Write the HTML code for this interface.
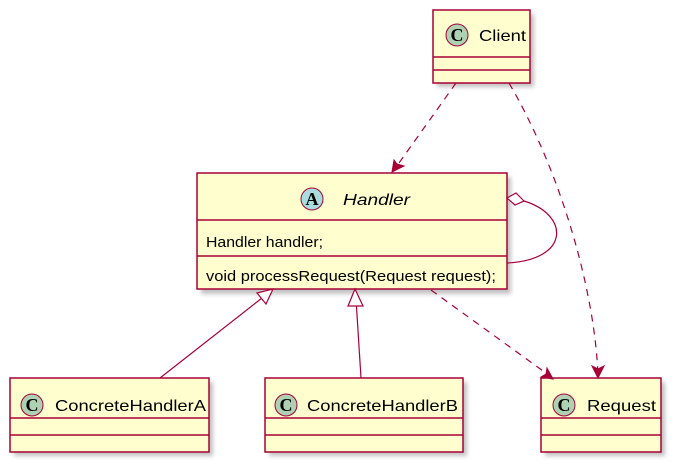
<!DOCTYPE html>
<html><head><style>
body{margin:0;background:#fff;}
svg{display:block;font-family:"Liberation Sans",sans-serif;}
</style></head><body>
<svg width="679" height="471" viewBox="0 0 679 471" xmlns="http://www.w3.org/2000/svg">
<defs>
<filter id="sh" x="-10%" y="-10%" width="130%" height="130%"><feGaussianBlur stdDeviation="2"/></filter>
</defs>
<g fill="#999" opacity="0.6" filter="url(#sh)">
<rect x="437" y="14" width="97" height="73"/>
<rect x="201" y="177" width="310" height="117"/>
<rect x="14" y="382" width="199" height="74"/>
<rect x="269" y="382" width="198" height="74"/>
<rect x="545" y="382" width="120" height="74"/>
</g>
<g stroke="#A80036" stroke-width="1.5" fill="#FEFECE">
<rect x="433" y="10" width="97" height="73"/>
<line x1="433" y1="57" x2="530" y2="57"/><line x1="433" y1="70" x2="530" y2="70"/>
<rect x="197" y="173" width="310" height="116"/>
<line x1="197" y1="220" x2="507" y2="220"/><line x1="197" y1="256" x2="507" y2="256"/>
<rect x="10" y="378" width="199" height="74"/>
<line x1="10" y1="418" x2="209" y2="418"/><line x1="10" y1="435" x2="209" y2="435"/>
<rect x="265" y="378" width="198" height="74"/>
<line x1="265" y1="418" x2="463" y2="418"/><line x1="265" y1="435" x2="463" y2="435"/>
<rect x="541" y="378" width="120" height="74"/>
<line x1="541" y1="418" x2="661" y2="418"/><line x1="541" y1="435" x2="661" y2="435"/>
</g>
<g stroke="#A80036" stroke-width="1" fill="#ADD1B2">
<circle cx="457" cy="35" r="11"/>
<circle cx="32" cy="405" r="11"/>
<circle cx="286" cy="405" r="11"/>
<circle cx="564" cy="405" r="11"/>
<circle cx="312" cy="199" r="11" fill="#A9DCDF"/>
</g>
<g font-family="Liberation Serif,serif" font-weight="bold" font-size="18" text-anchor="middle" fill="#000">
<text x="457" y="41">C</text><text x="32" y="411">C</text><text x="286" y="411">C</text><text x="564" y="411">C</text><text x="312" y="205">A</text>
</g>
<g font-size="16" fill="#000">
<text x="479" y="41" textLength="47" lengthAdjust="spacingAndGlyphs">Client</text>
<text x="343" y="205" font-style="italic" textLength="67" lengthAdjust="spacingAndGlyphs">Handler</text>
<text x="206" y="247" font-size="15" textLength="117" lengthAdjust="spacingAndGlyphs">Handler handler;</text>
<text x="206" y="281" font-size="15" textLength="290" lengthAdjust="spacingAndGlyphs">void processRequest(Request request);</text>
<text x="55" y="411" textLength="151" lengthAdjust="spacingAndGlyphs">ConcreteHandlerA</text>
<text x="307" y="411" textLength="151" lengthAdjust="spacingAndGlyphs">ConcreteHandlerB</text>
<text x="587" y="411" textLength="69" lengthAdjust="spacingAndGlyphs">Request</text>
</g>
<g stroke="#A80036" stroke-width="1.2" fill="none">
<path d="M456 83 L394 170" stroke-dasharray="7,6"/>
<path d="M509 83 C560 170 595 290 598 376" stroke-dasharray="7,6"/>
<path d="M431 290 L550 376" stroke-dasharray="7,6"/>
<path d="M160 378 L262 298"/>
<path d="M361 378 L356 299"/>
<path d="M524 201 C570 215 570 260 507 263"/>
</g>
<g fill="#A80036" stroke="#A80036">
<path d="M392 172 L394 160 L397 164 L404 166 Z"/>
<path d="M598 378 L592 366 L598 369 L604 366 Z"/>
<path d="M553 379 L541 377 L546 374 L547 368 Z"/>
</g>
<g fill="#fff" stroke="#A80036" stroke-width="1.2">
<path d="M273 289 L266 304 L257 293 Z"/>
<path d="M355 289 L348 306 L363 306 Z"/>
<path d="M507 198 L516 193 L524 201 L515 205 Z"/>
</g>
</svg>
</body></html>
